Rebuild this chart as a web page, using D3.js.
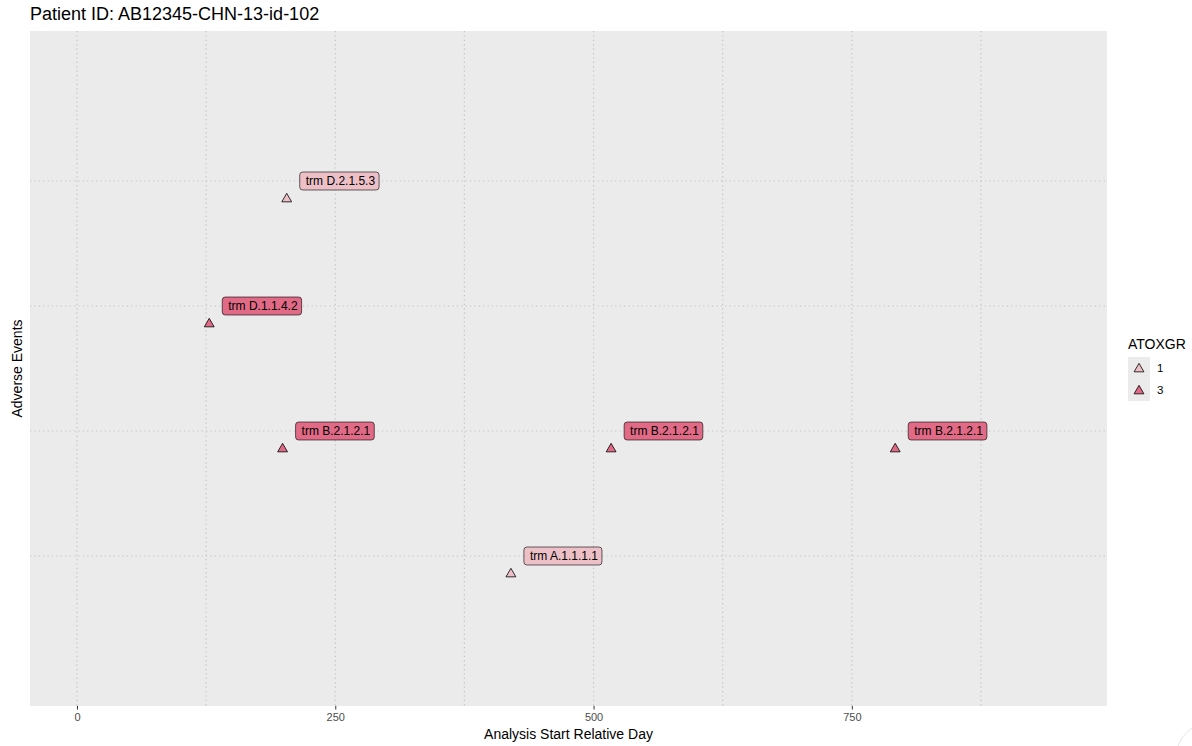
<!DOCTYPE html>
<html>
<head>
<meta charset="utf-8">
<script src="https://cdn.jsdelivr.net/npm/d3@7"></script>
<style>
  body { margin: 0; background: #fff; }
  text { font-family: "Liberation Sans", Arial, sans-serif; }
</style>
</head>
<body>
<svg id="chart" width="1192" height="746"></svg>
<script>
// ---- data ----
const eventTerms = ["trm D.2.1.5.3", "trm D.1.1.4.2", "trm B.2.1.2.1", "trm B.2.1.2.1", "trm B.2.1.2.1", "trm A.1.1.1.1"];
const eventDays  = [203, 128, 199, 517, 792, 420];
const eventRows  = [4, 3, 2, 2, 2, 1];
const eventGrades = ["1", "3", "3", "3", "3", "1"];
const gradeLevels = ["1", "3"];
const gradeColors = ["#EDC0C8", "#E16A86"];
const xTicks = [0, 250, 500, 750];
const xMinor = [125, 375, 625, 875];
const yTicks = [1, 2, 3, 4];

const titleText = "Patient ID: AB12345-CHN-13-id-102";
const xTitle = "Analysis Start Relative Day";
const yTitle = "Adverse Events";
const legendTitle = "ATOXGR";

// ---- layout ----
const svg = d3.select("#chart");
const panel = { left: 30, top: 31, right: 1107, bottom: 706 };

const x = d3.scaleLinear().domain([-45.5, 997]).range([panel.left, panel.right]);
const y = d3.scaleLinear().domain([-0.2, 5.2]).range([panel.bottom, panel.top]);
const color = d3.scaleOrdinal().domain(gradeLevels).range(gradeColors);

svg.append("text").attr("x", 30).attr("y", 20).attr("font-size", 18).attr("fill", "#000").text(titleText);

svg.append("rect").attr("x", panel.left).attr("y", panel.top)
  .attr("width", panel.right - panel.left).attr("height", panel.bottom - panel.top)
  .attr("fill", "#EBEBEB");

const grid = svg.append("g");
const gridStyle = sel => sel.attr("stroke", "#C2C2C2").attr("stroke-width", 1.2).attr("stroke-dasharray", "1.2,3.2");
[...xTicks, ...xMinor].forEach(v => {
  grid.append("line").attr("x1", x(v)).attr("x2", x(v)).attr("y1", panel.top).attr("y2", panel.bottom).call(gridStyle);
});
yTicks.forEach(v => {
  grid.append("line").attr("x1", panel.left).attr("x2", panel.right).attr("y1", y(v)).attr("y2", y(v)).call(gridStyle);
});

// x axis
const xAxis = d3.axisBottom(x).tickValues(xTicks).tickSize(3.5).tickPadding(4);
const gx = svg.append("g").attr("transform", `translate(0,${panel.bottom})`).call(xAxis);
gx.select(".domain").remove();
gx.selectAll(".tick line").attr("stroke", "#333").attr("stroke-width", 1);
gx.selectAll(".tick text").attr("fill", "#4D4D4D").attr("font-size", 11).attr("font-family", "Liberation Sans, Arial, sans-serif");

svg.append("text").attr("x", (panel.left + panel.right) / 2).attr("y", 739)
  .attr("text-anchor", "middle").attr("font-size", 14).text(xTitle);
svg.append("text").attr("transform", `translate(22,${(panel.top + panel.bottom) / 2}) rotate(-90)`)
  .attr("text-anchor", "middle").attr("font-size", 14).text(yTitle);

// points & labels
const tri = d3.symbol().type(d3.symbolTriangle).size(42);
const pointOffset = 17; // px nudge of point below its label row
const marks = svg.append("g");
eventTerms.forEach((t, i) => {
  const px = x(eventDays[i]);
  const py = y(eventRows[i]);
  marks.append("path").attr("d", tri)
    .attr("transform", `translate(${px},${py + pointOffset + 1})`)
    .attr("fill", color(eventGrades[i])).attr("stroke", "#000").attr("stroke-width", 0.8);
  const lg = marks.append("g").attr("transform", `translate(${px + 13},${py})`);
  const txt = lg.append("text").attr("x", 6).attr("y", 4.3).attr("font-size", 12).attr("fill", "#000").text(t);
  const w = txt.node().getComputedTextLength() + 10;
  lg.insert("rect", "text").attr("x", 0).attr("y", -9).attr("width", w).attr("height", 18)
    .attr("rx", 3).attr("ry", 3)
    .attr("fill", color(eventGrades[i])).attr("stroke", "#000").attr("stroke-width", 0.6);
});

// legend
const lgd = svg.append("g").attr("transform", "translate(1128,0)");
lgd.append("text").attr("x", 0).attr("y", 349).attr("font-size", 14).text(legendTitle);
gradeLevels.forEach((g, i) => {
  const yy = 357 + i * 22;
  lgd.append("rect").attr("x", 0).attr("y", yy).attr("width", 22).attr("height", 22).attr("fill", "#EBEBEB");
  lgd.append("path").attr("d", tri).attr("transform", `translate(11,${yy + 12})`)
    .attr("fill", color(g)).attr("stroke", "#000").attr("stroke-width", 0.8);
  lgd.append("text").attr("x", 29).attr("y", yy + 15).attr("font-size", 11.5).text(g);
});

// corner artifact
svg.append("circle").attr("cx", 1212).attr("cy", 758).attr("r", 36)
  .attr("fill", "#fff").attr("stroke", "#E6E6E6").attr("stroke-width", 1);
</script>
</body>
</html>
